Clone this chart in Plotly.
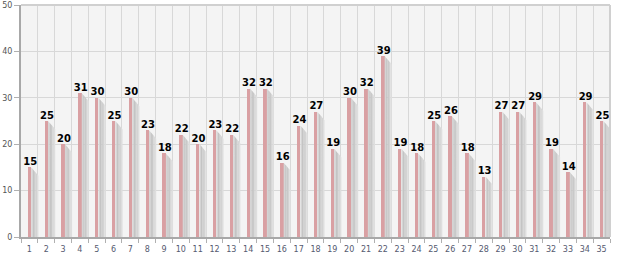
import plotly.graph_objects as go

categories = [str(i) for i in range(1, 36)]
values = [15, 25, 20, 31, 30, 25, 30, 23, 18, 22, 20, 23, 22, 32, 32, 16, 24, 27,
          19, 30, 32, 39, 19, 18, 25, 26, 18, 13, 27, 27, 29, 19, 14, 29, 25]
y_ticks = [0, 10, 20, 30, 40, 50]

xs = list(range(1, len(values) + 1))

fig = go.Figure()

# shadow strips (gradient) to the right of each bar
strip_colors = ["#d4d4d4", "#c4c4c4", "#c9c9c9", "#d3d3d3", "#dedede"]
x_start = 0.11
strip_w = 0.085
drop = 1.8
total_w = strip_w * len(strip_colors)
for k, col in enumerate(strip_colors):
    px, py = [], []
    for x, v in zip(xs, values):
        a = x + x_start + k * strip_w
        b = a + strip_w
        ya = v - drop * (k * strip_w) / total_w
        yb = v - drop * ((k + 1) * strip_w) / total_w
        px += [a, b, b, a, a, None]
        py += [ya, yb, 0, 0, ya, None]
    fig.add_trace(go.Scatter(x=px, y=py, mode="lines", fill="toself",
                             fillcolor=col, line=dict(width=0),
                             hoverinfo="skip", showlegend=False))

fig.add_trace(go.Bar(x=xs, y=values, width=0.2, marker=dict(color="#d9a0a3", line=dict(width=0)),
                     showlegend=False))

fig.add_trace(go.Scatter(x=[x + 0.05 for x in xs], y=values, mode="text",
                         text=[f"<b>{v}</b>" for v in values], textposition="top center",
                         textfont=dict(family="Verdana, DejaVu Sans", size=10, color="#000000"),
                         showlegend=False, hoverinfo="skip"))

fig.update_layout(
    width=617, height=256,
    margin=dict(l=21, r=7, t=5, b=19),
    paper_bgcolor="#ffffff", plot_bgcolor="#f4f4f4",
    bargap=0,
    xaxis=dict(range=[0.5, len(values) + 0.5], tickvals=xs, ticktext=categories,
               showgrid=False, ticks="", zeroline=False, automargin=False,
               showline=True, linecolor="#a8a8a8", linewidth=2,
               ticklabelstandoff=3,
               tickfont=dict(family="Verdana, DejaVu Sans", size=8, color="#555a70"),
               minor=dict(tick0=0.5, dtick=1, ticks="outside", ticklen=4, tickcolor="#b0b0b0",
                          showgrid=True, gridcolor="#d8d8d8", gridwidth=1)),
    yaxis=dict(range=[0, 50], tickvals=y_ticks, showgrid=True, gridcolor="#d8d8d8",
               zeroline=False, showline=True, linecolor="#a8a8a8", linewidth=2,
               ticks="outside", ticklen=5, tickcolor="#b0b0b0", automargin=False,
               tickfont=dict(family="Verdana, DejaVu Sans", size=8, color="#555555")),
    shapes=[dict(type="line", xref="paper", yref="paper", x0=0, x1=1, y0=1, y1=1,
                 line=dict(color="#d0d0d0", width=2)),
            dict(type="line", xref="paper", yref="paper", x0=1, x1=1, y0=0, y1=1,
                 line=dict(color="#d0d0d0", width=2))],
)

fig.write_html("out.html")
